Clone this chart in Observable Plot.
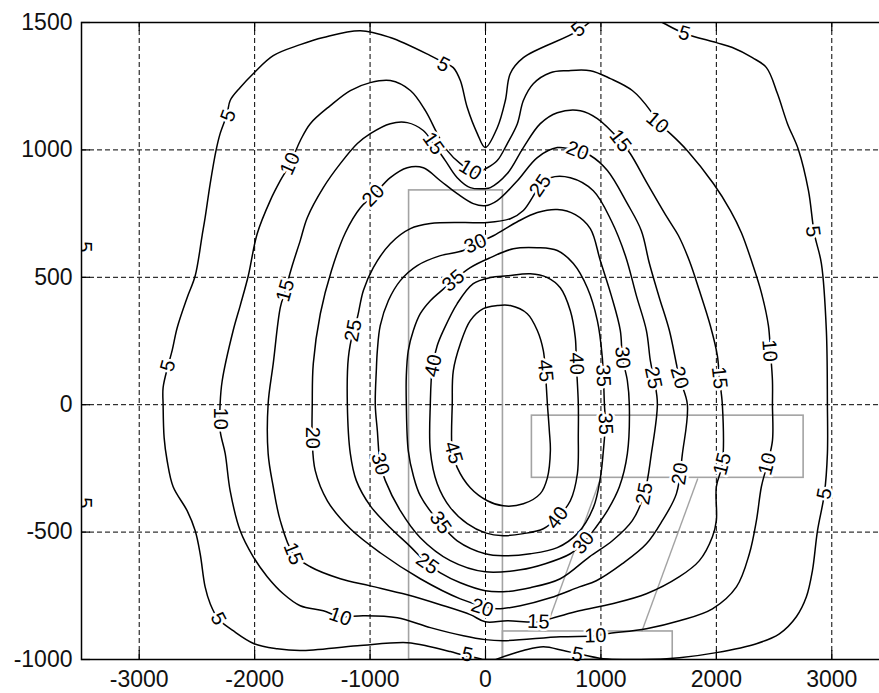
<!DOCTYPE html>
<html><head><meta charset="utf-8">
<script src="https://cdn.jsdelivr.net/npm/d3@7"></script>
<script src="https://cdn.jsdelivr.net/npm/@observablehq/plot@0.6"></script>
<style>
html,body{margin:0;padding:0;background:#fff;overflow:hidden}
#chart{width:879px;height:693px;overflow:hidden}
#chart svg{max-width:none !important}
</style></head><body><div id="chart"></div>
<script>
// ---- data ----
const levels = [5, 10, 15, 20, 25, 30, 35, 40, 45];
const xTicks = [-3000, -2000, -1000, 0, 1000, 2000, 3000];
const yTicks = [-1000, -500, 0, 500, 1000, 1500];

// contour 5 (open curve, leaves through the top edge twice)
const c5 = [[995,1539],[804,1468],[328,1362],[215,1300],[172,1194],[102,1087],[-2,1009],[-71,1064],[-158,1166],[-218,1272],[-279,1323],[-365,1343],[-478,1370],[-825,1441],[-1084,1468],[-1405,1441],[-1605,1413],[-1839,1370],[-2004,1303],[-2125,1245],[-2212,1194],[-2238,1142],[-2299,1064],[-2333,1001],[-2385,868],[-2429,734],[-2455,664],[-2515,506],[-2585,420],[-2671,302],[-2715,212],[-2750,153],[-2793,67],[-2793,0],[-2784,-130],[-2758,-220],[-2706,-322],[-2585,-416],[-2515,-495],[-2472,-585],[-2429,-715],[-2385,-781],[-2316,-840],[-2186,-887],[-2004,-938],[-1804,-958],[-1605,-965],[-1110,-946],[-678,-934],[-478,-950],[-305,-969],[-175,-985],[-45,-997],[16,-1009],[154,-989],[328,-965],[501,-950],[674,-965],[796,-977],[1021,-997],[1341,-1001],[1680,-993],[2000,-973],[2347,-938],[2546,-899],[2693,-832],[2780,-754],[2832,-652],[2876,-495],[2936,-349],[2962,-192],[2962,0],[2953,291],[2910,554],[2849,671],[2798,840],[2711,1001],[2616,1103],[2529,1221],[2434,1323],[2312,1362],[2139,1402],[2000,1421],[1723,1457],[1549,1496],[1428,1527]];
const c10 = [[-2299,4],[-2299,-102],[-2255,-192],[-2212,-338],[-2125,-495],[-2012,-597],[-1891,-675],[-1752,-742],[-1605,-789],[-1405,-809],[-1258,-832],[-1058,-828],[-764,-836],[-478,-875],[-192,-907],[-2,-922],[154,-926],[648,-911],[952,-907],[1047,-899],[1394,-879],[1680,-848],[1966,-801],[2174,-715],[2286,-585],[2347,-455],[2390,-322],[2442,-232],[2486,-141],[2486,0],[2486,94],[2468,212],[2451,310],[2390,440],[2312,554],[2217,675],[2122,762],[1974,868],[1749,997],[1601,1064],[1489,1107],[1428,1154],[1272,1233],[1082,1280],[908,1311],[709,1311],[562,1303],[414,1260],[328,1194],[276,1103],[189,1025],[102,958],[16,930],[-88,911],[-218,946],[-331,997],[-418,1064],[-521,1154],[-651,1233],[-825,1272],[-998,1264],[-1171,1233],[-1344,1174],[-1518,1103],[-1605,1036],[-1692,946],[-1778,879],[-1865,801],[-1978,671],[-2055,506],[-2125,389],[-2186,291],[-2281,94]];
const c15 = [[-1883,4],[-1883,-192],[-1839,-322],[-1778,-455],[-1666,-585],[-1518,-636],[-1258,-683],[-998,-711],[-678,-746],[-391,-785],[-132,-824],[-2,-852],[189,-848],[458,-852],[622,-832],[813,-809],[1099,-781],[1394,-742],[1680,-675],[1853,-612],[1966,-518],[2000,-455],[2000,-322],[2052,-232],[2052,0],[2026,106],[2009,192],[1948,310],[1853,448],[1766,565],[1671,664],[1575,734],[1402,868],[1255,985],[1168,1036],[969,1123],[822,1154],[622,1146],[475,1103],[328,1009],[189,907],[42,852],[-2,848],[-132,852],[-245,891],[-348,958],[-452,1025],[-539,1076],[-678,1107],[-825,1103],[-998,1064],[-1110,1025],[-1258,946],[-1405,852],[-1544,734],[-1605,644],[-1674,546],[-1735,448],[-1778,381],[-1839,161]];
const c20 = [[-1501,0],[-1501,-141],[-1475,-259],[-1370,-377],[-1171,-487],[-912,-581],[-565,-683],[-218,-762],[-2,-793],[102,-801],[302,-789],[562,-758],[813,-715],[960,-691],[1186,-624],[1394,-546],[1532,-455],[1654,-349],[1706,-192],[1749,0],[1680,106],[1593,291],[1506,420],[1420,554],[1350,683],[1229,789],[1056,919],[908,978],[796,997],[622,1009],[449,970],[276,879],[102,801],[-2,781],[-106,789],[-245,828],[-391,879],[-539,930],[-678,930],[-825,891],[-972,821],[-1084,773],[-1214,675],[-1335,526],[-1431,357],[-1492,161]];
const c25 = [[-1197,4],[-1188,185],[-1145,291],[-1110,342],[-1058,448],[-972,538],[-825,632],[-651,691],[-478,711],[-192,715],[16,715],[215,730],[328,762],[475,860],[562,891],[735,891],[934,840],[1090,722],[1212,585],[1307,428],[1394,291],[1428,173],[1463,94],[1489,4],[1437,-192],[1376,-349],[1272,-455],[1099,-534],[900,-597],[648,-683],[388,-718],[154,-734],[-2,-730],[-218,-699],[-391,-660],[-504,-624],[-651,-557],[-825,-483],[-998,-397],[-1119,-298],[-1171,-192]];
const c30 = [[-88,632],[68,663],[276,718],[449,754],[622,766],[778,746],[908,691],[995,565],[1090,428],[1168,291],[1186,185],[1229,94],[1246,0],[1229,-192],[1160,-322],[1056,-416],[960,-479],[848,-542],[735,-585],[518,-624],[302,-648],[-2,-656],[-305,-612],[-565,-522],[-738,-416],[-868,-298],[-912,-232],[-937,-102],[-955,0],[-946,133],[-937,212],[-912,310],[-842,408],[-738,487],[-591,546],[-391,585],[-192,605]];
const c35 = [[42,577],[241,612],[449,616],[622,605],[761,554],[882,459],[969,330],[1012,185],[1030,4],[1038,-75],[1021,-181],[995,-287],[934,-404],[796,-506],[622,-561],[388,-585],[154,-593],[-2,-585],[-245,-534],[-391,-467],[-565,-357],[-625,-279],[-669,-181],[-686,4],[-686,114],[-669,212],[-625,291],[-565,357],[-478,408],[-391,444],[-279,487],[-132,538]];
const c40 = [[42,499],[189,506],[388,514],[536,499],[648,459],[735,369],[778,263],[787,161],[804,4],[804,-114],[796,-271],[735,-377],[622,-444],[501,-487],[328,-506],[154,-514],[-2,-503],[-158,-467],[-305,-404],[-418,-310],[-478,-181],[-478,4],[-461,145],[-418,232],[-365,291],[-245,397],[-106,475]];
const c45 = [[102,389],[215,389],[362,357],[449,291],[501,212],[518,133],[536,4],[553,-102],[562,-181],[536,-287],[475,-349],[328,-389],[154,-397],[16,-377],[-132,-326],[-245,-247],[-288,-181],[-288,4],[-279,133],[-218,239],[-132,330],[-19,377]];

// contour labels: [level, x, y]
const labelPoints = [
  [5,-2229,1135],[5,-365,1335],[5,804,1472],[5,1723,1457],[5,2835,680],[5,2936,-349],[5,-2750,153],[5,-2316,-840],[5,-158,-981],[5,796,-981],
  [10,-1692,946],[10,-132,921],[10,1489,1107],[10,2460,212],[10,2442,-232],[10,-2299,-55],[10,-1258,-832],[10,952,-907],
  [15,-1735,448],[15,-452,1025],[15,1168,1036],[15,2026,106],[15,2052,-232],[15,-1666,-585],[15,458,-852],
  [20,-972,821],[20,796,997],[20,-1501,-130],[20,1680,106],[20,1685,-271],[20,-28,-797],
  [25,-1145,291],[25,475,860],[25,1454,106],[25,1376,-349],[25,-504,-624],
  [30,-88,632],[30,1186,185],[30,-912,-232],[30,848,-542],
  [35,-279,487],[35,1019,114],[35,1038,-75],[35,-391,-463],
  [40,-452,153],[40,787,161],[40,622,-444],
  [45,518,133],[45,-279,-188]
];
// labels of contours lying just beyond the left x limit (only partly visible)
const edgeLabels = [[-3474,620,"5"],[-3474,-385,"5"]];

// grey annotation boxes [x1, x2, y1, y2] and connector lines [x1, y1, x2, y2]
const greyBoxes = [[-662,151,841,-1000],[402,2756,-43,-287],[151,1622,-890,-1000]];
const greyLinks = [[999,-287,515,-890],[1839,-290,1354,-890]];

// ---- layout ----
const W = 889, H = 693, ML = 81, MR = 0, MT = 22, MB = 34;
const xDom = [-3500, 3500], yDom = [-1000, 1500];
const PW = W - ML - MR, PH = H - MT - MB;
const kx = PW / (xDom[1] - xDom[0]);
const ky = PH / (yDom[1] - yDom[0]);

const contours = {5: c5, 10: c10, 15: c15, 20: c20, 25: c25, 30: c30, 35: c35, 40: c40, 45: c45};

function angleAt(level, x, y) {
  const pts = contours[level];
  const closed = level !== 5;
  const n = pts.length;
  let best = Infinity, ang = 0;
  const px = x * kx, py = -y * ky;
  for (let i = 0; i < (closed ? n : n - 1); i++) {
    const a = pts[i], b = pts[(i + 1) % n];
    const ax = a[0] * kx, ay = -a[1] * ky, bx = b[0] * kx, by = -b[1] * ky;
    const dx = bx - ax, dy = by - ay;
    const L = dx * dx + dy * dy || 1;
    const t = Math.max(0, Math.min(1, ((px - ax) * dx + (py - ay) * dy) / L));
    const d = Math.hypot(ax + t * dx - px, ay + t * dy - py);
    if (d < best) { best = d; ang = Math.atan2(dy, dx) * 180 / Math.PI; }
  }
  if (ang > 90) ang -= 180;
  if (ang <= -90) ang += 180;
  return ang;
}

const closedRows = levels.filter(l => l !== 5)
  .flatMap(l => contours[l].map(([x, y]) => ({level: l, x, y})));
const openRows = c5.map(([x, y]) => ({level: 5, x, y}));
const labelRows = labelPoints.map(([level, x, y]) => ({level, x, y, text: String(level), angle: angleAt(level, x, y)}));
const edgeRows = edgeLabels.map(([x, y, t]) => ({x, y, t}));
const boxRows = greyBoxes.map(([x1, x2, y1, y2]) => ({x1, x2, y1, y2}));
const linkRows = greyLinks.map(([x1, y1, x2, y2]) => ({x1, y1, x2, y2}));

const font = "'Liberation Sans', Arial, Helvetica, sans-serif";

const chart = Plot.plot({
  width: W, height: H,
  marginLeft: ML, marginRight: MR, marginTop: MT, marginBottom: MB,
  x: {domain: xDom},
  y: {domain: yDom},
  style: {fontFamily: font, background: "#fff", color: "#000", maxWidth: "none"},
  marks: [
    Plot.gridX(xTicks, {stroke: "#000", strokeOpacity: 1, strokeWidth: 1, strokeDasharray: "5,3"}),
    Plot.gridY(yTicks, {stroke: "#000", strokeOpacity: 1, strokeWidth: 1, strokeDasharray: "5,3"}),
    Plot.rect(boxRows, {x1: "x1", x2: "x2", y1: "y1", y2: "y2", fill: "none", stroke: "#a3a3a3", strokeWidth: 1.6}),
    Plot.link(linkRows, {x1: "x1", y1: "y1", x2: "x2", y2: "y2", stroke: "#a3a3a3", strokeWidth: 1.4}),
    Plot.line(closedRows, {x: "x", y: "y", z: "level", curve: "catmull-rom-closed", stroke: "#000", strokeWidth: 1.5}),
    Plot.line(openRows, {x: "x", y: "y", curve: "catmull-rom", stroke: "#000", strokeWidth: 1.5, clip: true}),
    Plot.text(labelRows, {x: "x", y: "y", text: "text", rotate: "angle", fontSize: 20, fill: "#000", stroke: "#fff", strokeWidth: 5, fontFamily: font}),
    Plot.text(edgeRows, {x: "x", y: "y", text: "t", rotate: 90, fontSize: 20, fill: "#000", clip: true, fontFamily: font}),
    Plot.frame({stroke: "#000", strokeWidth: 1.5}),
    Plot.tickX(xTicks, {stroke: "#000", strokeWidth: 1.2, insetTop: PH - 9}),
    Plot.tickX(xTicks, {stroke: "#000", strokeWidth: 1.2, insetBottom: PH - 9}),
    Plot.tickY(yTicks, {stroke: "#000", strokeWidth: 1.2, insetRight: PW - 9}),
    Plot.axisX(xTicks, {tickSize: 0, tickPadding: 11, fontSize: 23, tickFormat: d => String(d), fill: "#111", label: null}),
    Plot.axisY(yTicks, {tickSize: 0, tickPadding: 9, fontSize: 23, tickFormat: d => String(d), fill: "#111", label: null})
  ]
});
document.getElementById("chart").appendChild(chart);
</script>
</body></html>
